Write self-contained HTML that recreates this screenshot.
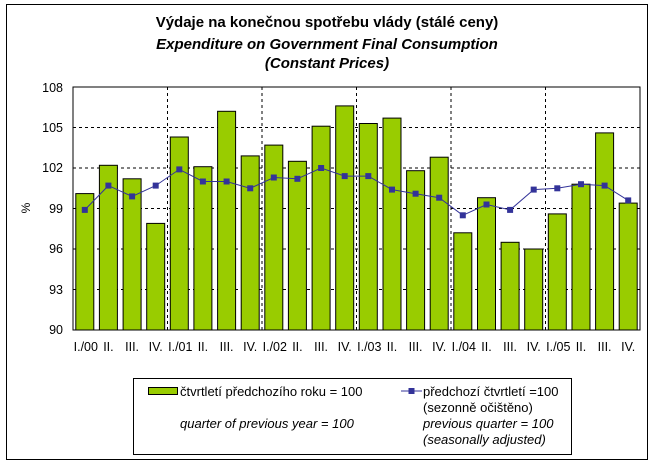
<!DOCTYPE html>
<html><head><meta charset="utf-8"><style>
body{margin:0;background:#fff;}
svg{display:block;font-family:"Liberation Sans",Arial,sans-serif;}
</style></head><body>
<svg width="654" height="466" viewBox="0 0 654 466" xmlns="http://www.w3.org/2000/svg">
<rect x="0" y="0" width="654" height="466" fill="#fff"/>
<rect x="6.5" y="4.5" width="641" height="455" fill="none" stroke="#000" stroke-width="1"/>
<g font-weight="bold" font-size="15" text-anchor="middle" fill="#000">
<text x="327" y="27">Výdaje na konečnou spotřebu vlády (stálé ceny)</text>
<text x="327" y="49" font-style="italic">Expenditure on Government Final Consumption</text>
<text x="327" y="68" font-style="italic">(Constant Prices)</text>
</g>
<g stroke="#000" stroke-dasharray="3,3" stroke-width="1">
<line x1="73" y1="127.5" x2="640" y2="127.5"/>
<line x1="73" y1="168" x2="640" y2="168"/>
<line x1="73" y1="208.5" x2="640" y2="208.5"/>
<line x1="73" y1="249" x2="640" y2="249"/>
<line x1="73" y1="289.5" x2="640" y2="289.5"/>
<line x1="167.5" y1="87" x2="167.5" y2="330"/>
<line x1="262" y1="87" x2="262" y2="330"/>
<line x1="356.5" y1="87" x2="356.5" y2="330"/>
<line x1="451" y1="87" x2="451" y2="330"/>
<line x1="545.5" y1="87" x2="545.5" y2="330"/>
</g>
<g fill="#99cc00" stroke="#000" stroke-width="1">
<rect x="75.8" y="193.6" width="18" height="136.4"/>
<rect x="99.4" y="165.3" width="18" height="164.7"/>
<rect x="123.1" y="178.8" width="18" height="151.2"/>
<rect x="146.7" y="223.4" width="18" height="106.6"/>
<rect x="170.3" y="137" width="18" height="193"/>
<rect x="193.9" y="166.7" width="18" height="163.3"/>
<rect x="217.6" y="111.3" width="18" height="218.7"/>
<rect x="241.2" y="155.9" width="18" height="174.1"/>
<rect x="264.8" y="145.1" width="18" height="184.9"/>
<rect x="288.4" y="161.3" width="18" height="168.7"/>
<rect x="312.1" y="126.2" width="18" height="203.8"/>
<rect x="335.7" y="105.9" width="18" height="224.1"/>
<rect x="359.3" y="123.5" width="18" height="206.5"/>
<rect x="383" y="118.1" width="18" height="211.9"/>
<rect x="406.6" y="170.7" width="18" height="159.3"/>
<rect x="430.2" y="157.2" width="18" height="172.8"/>
<rect x="453.8" y="232.8" width="18" height="97.2"/>
<rect x="477.5" y="197.7" width="18" height="132.3"/>
<rect x="501.1" y="242.3" width="18" height="87.7"/>
<rect x="524.7" y="249" width="18" height="81"/>
<rect x="548.3" y="213.9" width="18" height="116.1"/>
<rect x="572" y="184.2" width="18" height="145.8"/>
<rect x="595.6" y="132.9" width="18" height="197.1"/>
<rect x="619.2" y="203.1" width="18" height="126.9"/>
</g>
<rect x="73" y="87" width="567" height="243" fill="none" stroke="#000" stroke-width="1"/>
<polyline fill="none" stroke="#333399" stroke-width="1" points="84.8,209.9 108.4,185.6 132.1,196.4 155.7,185.6 179.3,169.4 202.9,181.5 226.6,181.5 250.2,188.3 273.8,177.5 297.4,178.8 321.1,168 344.7,176.1 368.3,176.1 392,189.6 415.6,193.7 439.2,197.7 462.8,215.3 486.5,204.5 510.1,209.9 533.7,189.6 557.3,188.3 581,184.2 604.6,185.6 628.2,200.4"/>
<g fill="#333399">
<rect x="81.8" y="206.9" width="6" height="6"/><rect x="105.4" y="182.6" width="6" height="6"/><rect x="129.1" y="193.4" width="6" height="6"/><rect x="152.7" y="182.6" width="6" height="6"/><rect x="176.3" y="166.4" width="6" height="6"/><rect x="199.9" y="178.5" width="6" height="6"/><rect x="223.6" y="178.5" width="6" height="6"/><rect x="247.2" y="185.3" width="6" height="6"/><rect x="270.8" y="174.5" width="6" height="6"/><rect x="294.4" y="175.8" width="6" height="6"/><rect x="318.1" y="165" width="6" height="6"/><rect x="341.7" y="173.1" width="6" height="6"/><rect x="365.3" y="173.1" width="6" height="6"/><rect x="389" y="186.6" width="6" height="6"/><rect x="412.6" y="190.7" width="6" height="6"/><rect x="436.2" y="194.7" width="6" height="6"/><rect x="459.8" y="212.3" width="6" height="6"/><rect x="483.5" y="201.5" width="6" height="6"/><rect x="507.1" y="206.9" width="6" height="6"/><rect x="530.7" y="186.6" width="6" height="6"/><rect x="554.3" y="185.3" width="6" height="6"/><rect x="578" y="181.2" width="6" height="6"/><rect x="601.6" y="182.6" width="6" height="6"/><rect x="625.2" y="197.4" width="6" height="6"/>
</g>
<g font-size="12.5" text-anchor="end" fill="#000">
<text x="63" y="92">108</text><text x="63" y="132">105</text><text x="63" y="172">102</text><text x="63" y="213">99</text><text x="63" y="253">96</text><text x="63" y="294">93</text><text x="63" y="334">90</text>
</g>
<text x="30" y="208" font-size="12" text-anchor="middle" transform="rotate(-90 30 208)">%</text>
<g font-size="12.5" text-anchor="middle" fill="#000">
<text x="85.8" y="351">I./00</text><text x="108.4" y="351">II.</text><text x="132.1" y="351">III.</text><text x="155.7" y="351">IV.</text>
<text x="180.3" y="351">I./01</text><text x="202.9" y="351">II.</text><text x="226.6" y="351">III.</text><text x="250.2" y="351">IV.</text>
<text x="274.8" y="351">I./02</text><text x="297.4" y="351">II.</text><text x="321.1" y="351">III.</text><text x="344.7" y="351">IV.</text>
<text x="369.3" y="351">I./03</text><text x="392" y="351">II.</text><text x="415.6" y="351">III.</text><text x="439.2" y="351">IV.</text>
<text x="463.8" y="351">I./04</text><text x="486.5" y="351">II.</text><text x="510.1" y="351">III.</text><text x="533.7" y="351">IV.</text>
<text x="558.3" y="351">I./05</text><text x="581" y="351">II.</text><text x="604.6" y="351">III.</text><text x="628.2" y="351">IV.</text>
</g>
<rect x="133.5" y="378.5" width="438" height="76" fill="none" stroke="#000" stroke-width="1"/>
<rect x="148.5" y="387.5" width="29" height="7" fill="#99cc00" stroke="#000" stroke-width="1"/>
<g font-size="13" fill="#000">
<text x="180" y="396">čtvrtletí předchozího roku = 100</text>
<text x="180" y="428" font-style="italic">quarter of previous year = 100</text>
<line x1="401" y1="391" x2="422" y2="391" stroke="#333399"/>
<rect x="408.5" y="388" width="6" height="6" fill="#333399"/>
<text x="423" y="396">předchozí čtvrtletí =100</text>
<text x="423" y="412">(sezonně očištěno)</text>
<text x="423" y="428" font-style="italic">previous quarter = 100</text>
<text x="423" y="444" font-style="italic">(seasonally adjusted)</text>
</g>
</svg>
</body></html>
